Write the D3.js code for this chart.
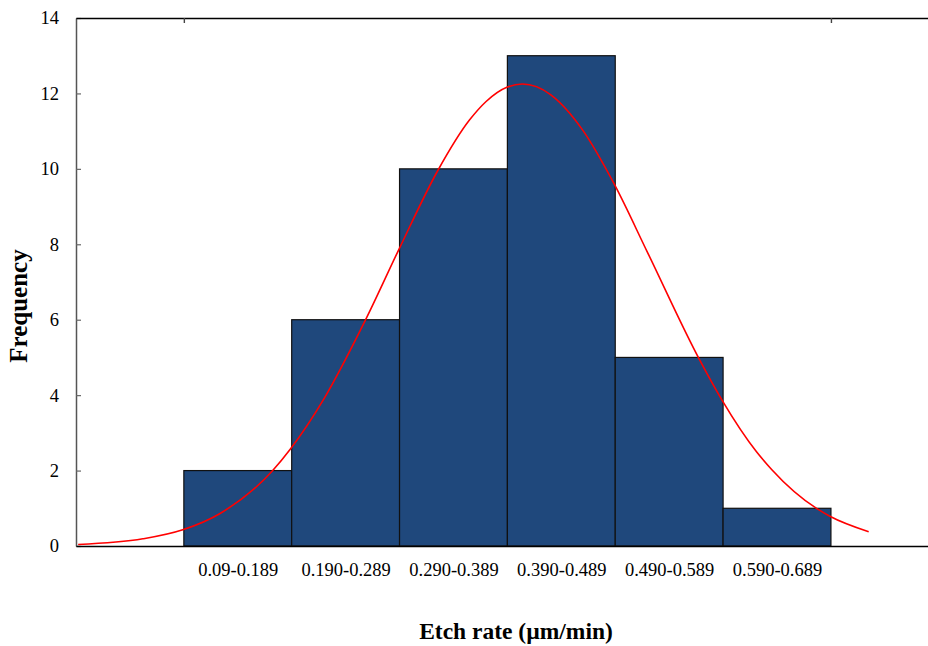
<!DOCTYPE html>
<html lang="en">
<head>
  <meta charset="UTF-8">
  <title>Etch rate histogram</title>
  <script src="https://cdn.jsdelivr.net/npm/d3@7.9.0/dist/d3.min.js"></script>
  <style>
    html, body { margin: 0; padding: 0; background: #fff; }
    svg, svg text { font-family: "Liberation Serif", "Times New Roman", serif !important; }
    svg { display: block; }
  </style>
</head>
<body>
  <div id="chart"></div>

  <script>
    // histogram bins (etch rate, um/min)
    const binLabels = ["0.09-0.189", "0.190-0.289", "0.290-0.389", "0.390-0.489", "0.490-0.589", "0.590-0.689"];
    const binStart  = [0.09, 0.19, 0.29, 0.39, 0.49, 0.59];
    const binEnd    = [0.19, 0.29, 0.39, 0.49, 0.59, 0.69];
    const frequency = [2, 6, 10, 13, 5, 1];

    // fitted normal curve
    const curveRate = [-0.008, 0.052, 0.089, 0.124, 0.172, 0.189, 0.220, 0.258, 0.290, 0.325,
                       0.355, 0.370, 0.390, 0.404, 0.430, 0.448, 0.460, 0.489, 0.520, 0.568,
                       0.589, 0.621, 0.635, 0.677, 0.689, 0.725];
    const curveFreq = [0.04, 0.19, 0.43, 0.87, 1.99, 2.58, 3.91, 5.97, 7.90, 9.93,
                       11.30, 11.78, 12.17, 12.25, 11.97, 11.47, 11.02, 9.60, 7.78, 4.95,
                       3.87, 2.50, 2.03, 0.99, 0.79, 0.38];

    const yTicks = [0, 2, 4, 6, 8, 10, 12, 14];

    const width = 928, height = 646;
    const plotLeft = 76, plotRight = 928, plotTop = 18, plotBottom = 546;

    const svg = d3.select("#chart").append("svg")
      .attr("width", width)
      .attr("height", height);

    const x = d3.scaleLinear().domain([-0.01, 0.78]).range([plotLeft, plotRight]);
    const y = d3.scaleLinear().domain([0, 14]).range([plotBottom, plotTop]);

    // bars
    svg.append("g")
      .selectAll("rect")
      .data(frequency)
      .join("rect")
      .attr("x", (d, i) => x(binStart[i]))
      .attr("y", d => y(d))
      .attr("width", (d, i) => x(binEnd[i]) - x(binStart[i]))
      .attr("height", d => y(0) - y(d))
      .attr("fill", "#1f487c")
      .attr("stroke", "#111")
      .attr("stroke-width", 1.2);

    // normal curve
    const line = d3.line()
      .x((d, i) => x(curveRate[i]))
      .y(d => y(d))
      .curve(d3.curveMonotoneX);

    svg.append("path")
      .datum(curveFreq)
      .attr("d", line)
      .attr("fill", "none")
      .attr("stroke", "#ff0000")
      .attr("stroke-width", 1.6);

    // left axis, ticks inward
    const yAxis = svg.append("g")
      .attr("transform", `translate(${plotLeft},0)`)
      .call(d3.axisLeft(y).tickValues(yTicks).tickSize(-5).tickSizeOuter(0).tickPadding(17));
    yAxis.attr("font-family", null);
    yAxis.select(".domain").attr("stroke", "#555").attr("stroke-width", 1.5);
    yAxis.selectAll(".tick line").attr("stroke", "#666").attr("stroke-width", 1.2);
    yAxis.selectAll("text").attr("font-size", 18.5).attr("fill", "#000");

    // top border with two ticks
    const topAxis = svg.append("g")
      .attr("transform", `translate(0,${plotTop})`)
      .call(d3.axisTop(x).tickValues([0.09, 0.69]).tickSize(-5).tickSizeOuter(0).tickFormat(""));
    topAxis.select(".domain").attr("stroke", "#000").attr("stroke-width", 1.6);
    topAxis.selectAll(".tick line").attr("stroke", "#444").attr("stroke-width", 1.4);

    // bottom axis with bin labels
    const binMid = binStart.map((s, i) => (s + binEnd[i]) / 2);
    const xAxis = svg.append("g")
      .attr("transform", `translate(0,${plotBottom})`)
      .call(d3.axisBottom(x).tickValues(binMid).tickSize(0).tickSizeOuter(0).tickPadding(17)
        .tickFormat((d, i) => binLabels[i]));
    xAxis.attr("font-family", null);
    xAxis.select(".domain").attr("stroke", "#000").attr("stroke-width", 1.6);
    xAxis.selectAll("text").attr("font-size", 18.5).attr("fill", "#000");

    // axis titles
    svg.append("text")
      .attr("x", 516)
      .attr("y", 639)
      .attr("text-anchor", "middle")
      .attr("font-size", 23.5)
      .attr("font-weight", "bold")
      .text("Etch rate (µm/min)");

    svg.append("text")
      .attr("transform", "translate(27,306) rotate(-90)")
      .attr("text-anchor", "middle")
      .attr("font-size", 25)
      .attr("font-weight", "bold")
      .text("Frequency");
  </script>
</body>
</html>
